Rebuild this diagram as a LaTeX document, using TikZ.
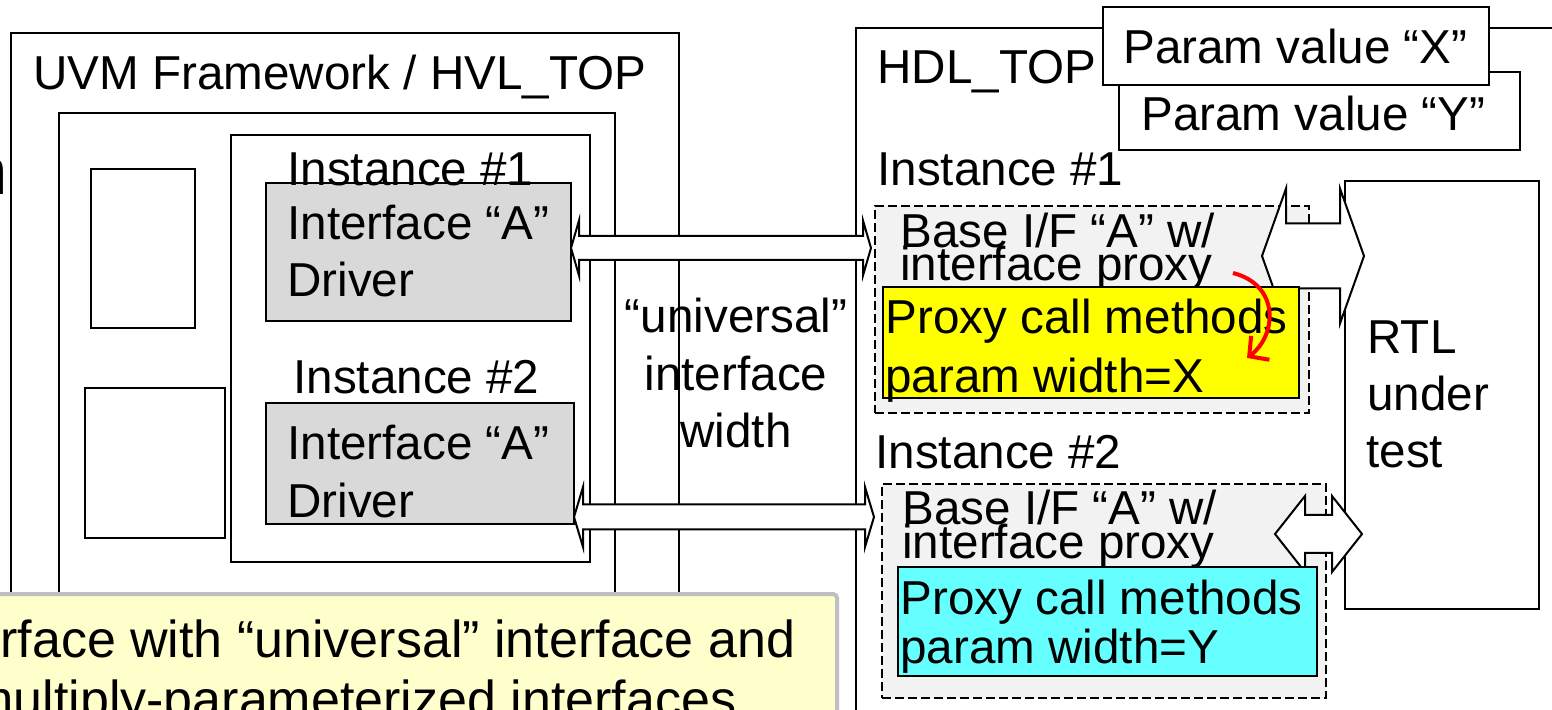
\documentclass[tikz,border=0pt]{standalone}
\usepackage{fontspec}
\setmainfont{Liberation Sans}
\usetikzlibrary{fit,calc,arrows.meta}

\definecolor{drvgray}{HTML}{D9D9D9}
\definecolor{proxybg}{HTML}{F2F2F2}
\definecolor{ylw}{HTML}{FFFF00}
\definecolor{cyn}{HTML}{66FFFF}
\definecolor{notebg}{HTML}{FFFFCC}
\definecolor{noteedge}{HTML}{BFBFBF}

\newcommand\fsz{\fontsize{23.8}{28.5}\selectfont}
\newcommand\notefsz{\fontsize{26}{30}\selectfont}

\tikzset{
  frame/.style={draw=black, line width=1pt, inner sep=0pt},
  dashbox/.style={draw=black, line width=1pt, dash pattern=on 4.5pt off 2pt, fill=proxybg, inner sep=0pt},
  lbl/.style={anchor=base west, inner sep=0pt, font=\fsz},
  clbl/.style={anchor=base, inner sep=0pt, font=\fsz},
  blockarrow/.style={draw=black, fill=white, line width=1pt, line join=miter},
}

% horizontal double-headed block arrow between two tip points
% #1 left tip, #2 right tip, #3 half shaft, #4 half head, #5 head length
\newcommand\dblarrow[5]{%
  \draw[blockarrow] let \p1=(#1), \p2=(#2) in
    (\x1,\y1) -- (\x1+#5,\y1+#4) -- (\x1+#5,\y1+#3) -- (\x2-#5,\y1+#3)
    -- (\x2-#5,\y1+#4) -- (\x2,\y1) -- (\x2-#5,\y1-#4) -- (\x2-#5,\y1-#3)
    -- (\x1+#5,\y1-#3) -- (\x1+#5,\y1-#4) -- cycle;}

\begin{document}
\begin{tikzpicture}[x=0.5pt,y=-0.5pt]
\clip (0,0) rectangle (1552,710);
\fill[white] (0,0) rectangle (1552,710);

% ---- verification side ----
\node[frame, fit={(11,33) (679,800)}] (uvm) {};
\node[frame, fit={(59,113) (615,800)}] (env) {};
\node[frame, fit={(231,135) (590,562)}] (agents) {};
\node[frame, fit={(91,169) (195,328)}] (blk1) {};
\node[frame, fit={(85,388) (225,538)}] (blk2) {};
\node[frame, fill=drvgray, fit={(266,183) (571,321)}] (drv1) {};
\node[frame, fill=drvgray, fit={(266,403) (574,524)}] (drv2) {};

\node[lbl] (uvmlbl) at (33,90) {UVM Framework / HVL\_TOP};
\node[lbl] (inst1l) at (287,186) {Instance \#1};
\node[lbl] (inst2l) at (293,394) {Instance \#2};
\node[lbl] (drv1a) at (287,240) {Interface “A”};
\node[lbl] (drv1b) at (287,297) {Driver};
\node[lbl] (drv2a) at (287,460) {Interface “A”};
\node[lbl] (drv2b) at (287,517) {Driver};

% ---- design side ----
\node[frame, fit={(856,28) (1620,800)}] (hdl) {};
\node[frame, fill=white, fit={(1119,72) (1520,150)}] (pY) {};
\node[frame, fill=white, fit={(1103,7) (1489,85)}] (pX) {};
\node[lbl] (pXl) at (1123,64) {Param value “X”};
\node[lbl] (pYl) at (1141,131) {Param value “Y”};
\node[lbl] (hdllbl) at (877,84) {HDL\_TOP};
\node[lbl] (hinst1) at (877,186) {Instance \#1};
\node[lbl] (hinst2) at (875,469) {Instance \#2};

\node[dashbox, fit={(875,206) (1309,413)}] (base1) {};
\node[dashbox, fit={(882,484) (1326,698)}] (base2) {};
\node[frame, fill=white, fit={(1345,181) (1539,609)}] (rtl) {};

\node[lbl] (rtla) at (1367,354) {RTL};
\node[lbl] (rtlb) at (1367,411) {under};
\node[lbl] (rtlc) at (1366,468) {test};

\node[lbl] (b1a) at (900,248) {Base I/F “A” w/};
\node[lbl] (b1b) at (900,281) {interface proxy};
\node[lbl] (b2a) at (902,524) {Base I/F “A” w/};
\node[lbl] (b2b) at (902,559) {interface proxy};

% links between the proxies and the RTL
\coordinate (r1w) at ($(base1.east |- 0,256)+(-48,0)$);
\coordinate (r1e) at ($(rtl.west |- 0,256)+(20,0)$);
\coordinate (r2w) at ($(base2.east |- 0,534)+(-52,0)$);
\coordinate (r2e) at ($(rtl.west |- 0,534)+(18,0)$);
\dblarrow{r1w}{r1e}{16.25pt}{33.75pt}{12pt}
\dblarrow{r2w}{r2e}{9.5pt}{19pt}{15pt}

\node[frame, fill=ylw, fit={(883,287) (1299,398)}] (px1) {};
\node[frame, fill=cyn, fit={(898,567) (1317,676)}] (px2) {};
\node[lbl] (px1a) at (885,334) {Proxy call methods};
\node[lbl] (px1b) at (885,393) {param width=X};
\node[lbl] (px2a) at (900,614) {Proxy call methods};
\node[lbl] (px2b) at (900,663) {param width=Y};

% universal-width links between drivers and proxies
\coordinate (m1w) at ($(drv1.east |- 0,248)+(-1,0)$);
\coordinate (m1e) at ($(base1.west |- 0,248)+(-3,0)$);
\coordinate (m2w) at ($(drv2.east |- 0,517)+(-1,0)$);
\coordinate (m2e) at ($(base2.west |- 0,517)+(-7,0)$);
\dblarrow{m1w}{m1e}{6pt}{13.75pt}{4pt}
\dblarrow{m2w}{m2e}{6.25pt}{15pt}{4.5pt}

\node[clbl] (uw1) at (736,333) {“universal”};
\node[clbl] (uw2) at (736,391) {interface};
\node[clbl] (uw3) at (736,448) {width};

% proxy call loop
\coordinate (rc1) at (1233,273);
\coordinate (rc2) at (1247,358);
\draw[red, line width=2pt, -{Straight Barb[length=7pt,width=15pt]}]
  (rc1) .. controls (1280,285) and (1277,335) .. (rc2);

% caption note
\node[draw=noteedge, line width=2pt, fill=notebg, rounded corners=2pt, inner sep=0pt,
      fit={(-20,594) (837,800)}] (note) {};
\node[lbl, font=\notefsz] (notea) at (0,657) {rface with “universal” interface and};
\node[lbl, font=\notefsz] (noteb) at (-30,717) {multiply-parameterized interfaces};

\node[anchor=base east, inner sep=0pt, font=\fontsize{33.5}{40}\selectfont] (edge) at (8,195) {n};
\end{tikzpicture}
\end{document}
